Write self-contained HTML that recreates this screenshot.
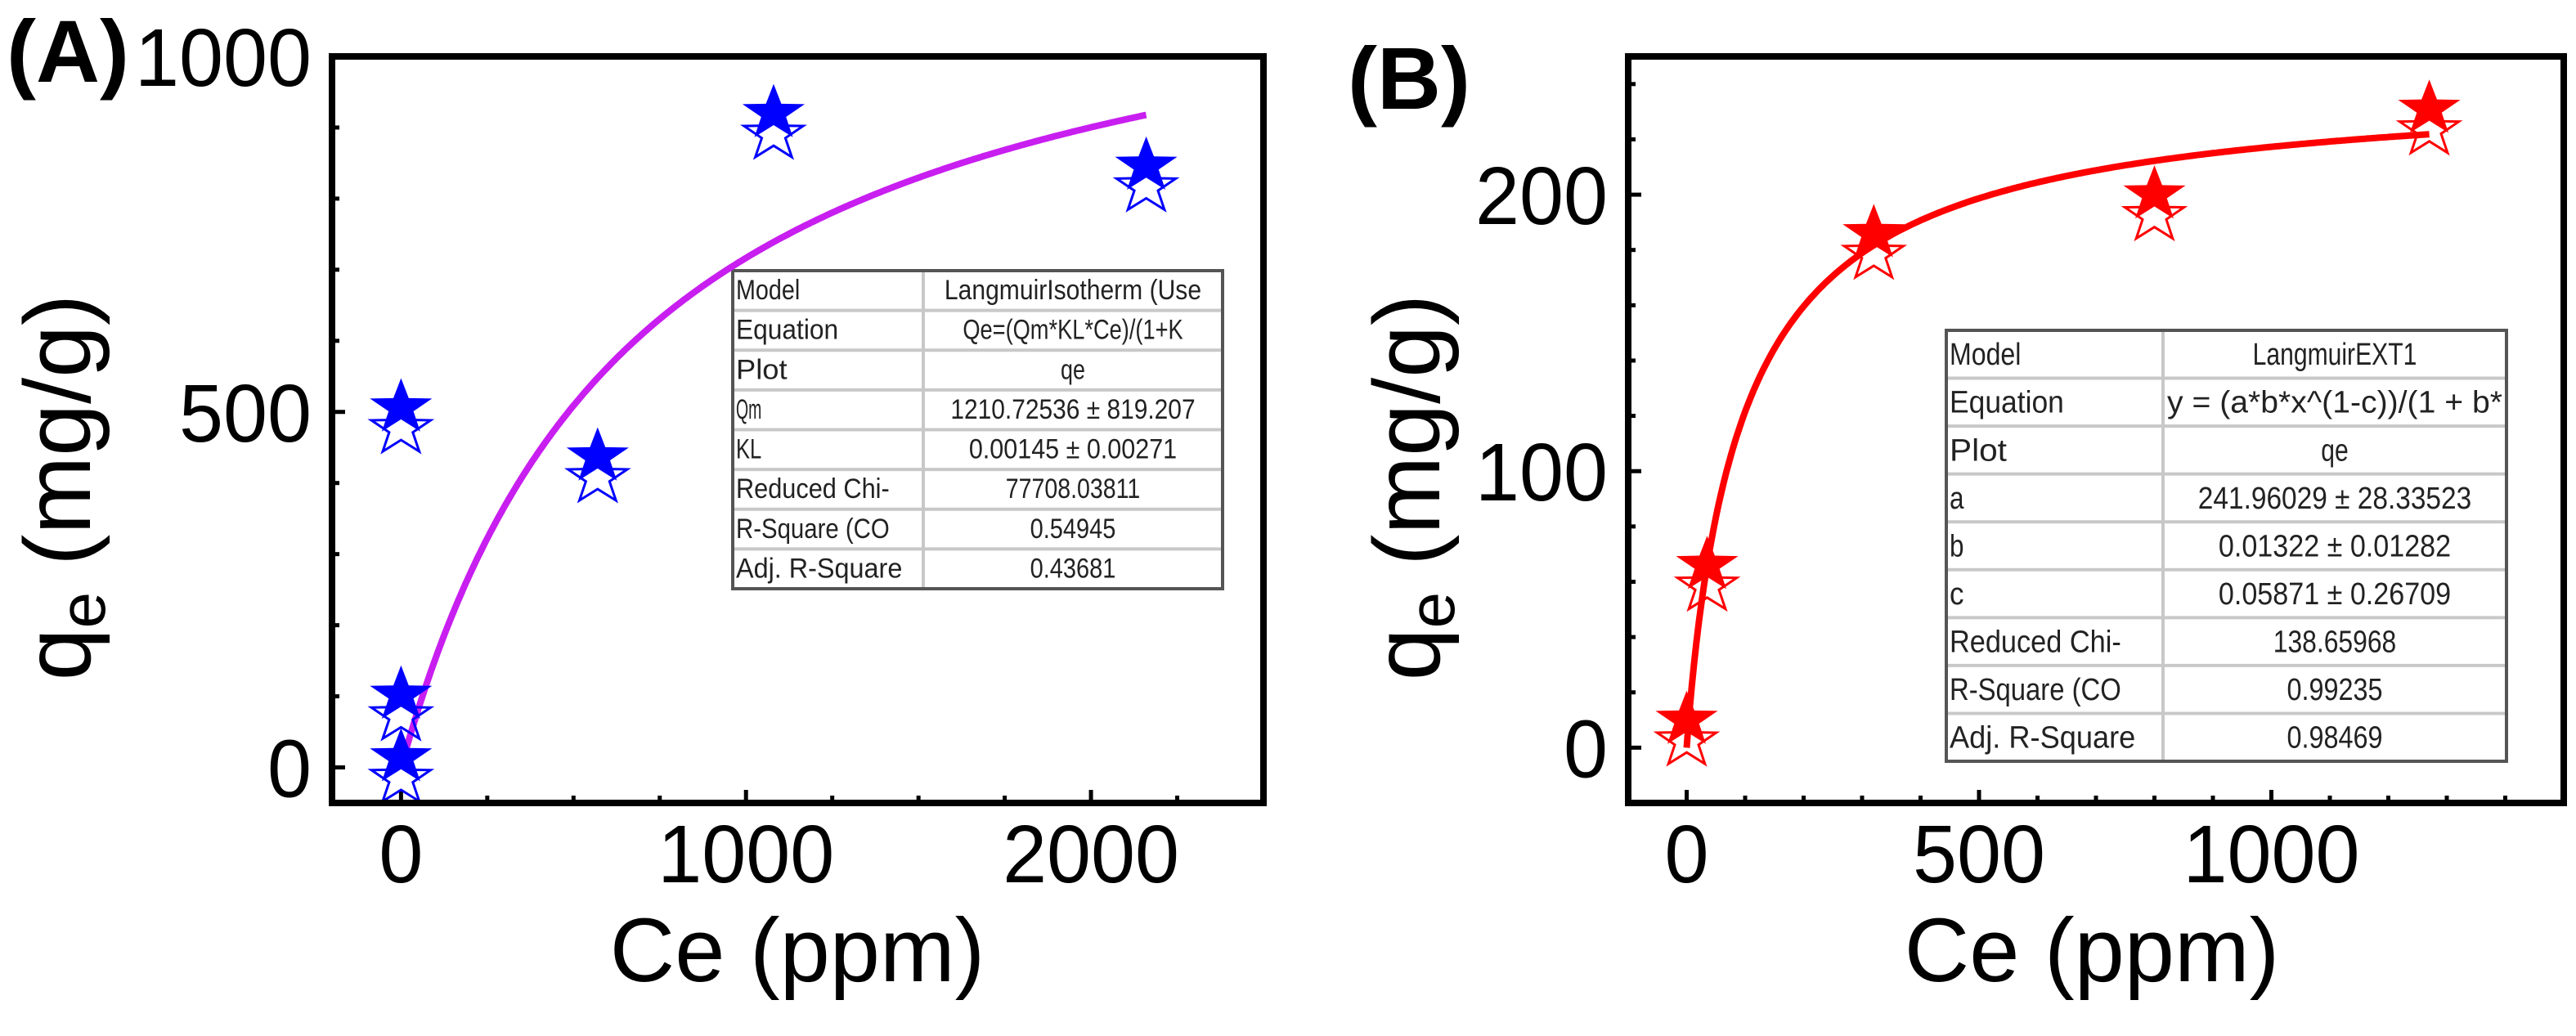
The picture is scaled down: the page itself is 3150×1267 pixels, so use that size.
<!DOCTYPE html>
<html><head><meta charset="utf-8">
<style>
html,body{margin:0;padding:0;background:#fff;}
svg{display:block;font-family:"Liberation Sans",Arial,sans-serif;}
</style></head>
<body>
<svg id="fig" width="3150" height="1267" viewBox="0 0 3150 1267" xmlns="http://www.w3.org/2000/svg">
  <rect x="0" y="0" width="3150" height="1267" fill="#fff"/>
  <g id="panelA"></g>
  <g id="panelB"></g>
</svg>
<script>
// ---------- Panel A data ----------
const aX = [0, 0, 0, 570, 1080, 2160];
const aY = [14, 102, 506, 437, 920, 846];
const aFitQm = 1210.72536;
const aFitKL = 0.00145;
const aXTicks = [0, 1000, 2000];
const aYTicks = [0, 500, 1000];
const aTableLabels = ["Model","Equation","Plot","Qm","KL","Reduced Chi-","R-Square (CO","Adj. R-Square"];
const aTableValues = ["LangmuirIsotherm (Use","Qe=(Qm*KL*Ce)/(1+K","qe","1210.72536 ± 819.207","0.00145 ± 0.00271","77708.03811","0.54945","0.43681"];
// ---------- Panel B data ----------
const bX = [0, 35, 320, 800, 1270];
const bY = [10, 66, 186, 200, 231];
const bFitA = 241.96029;
const bFitB = 0.01322;
const bFitC = 0.05871;
const bXTicks = [0, 500, 1000];
const bYTicks = [0, 100, 200];
const bTableLabels = ["Model","Equation","Plot","a","b","c","Reduced Chi-","R-Square (CO","Adj. R-Square"];
const bTableValues = ["LangmuirEXT1","y = (a*b*x^(1-c))/(1 + b*","qe","241.96029 ± 28.33523","0.01322 ± 0.01282","0.05871 ± 0.26709","138.65968","0.99235","0.98469"];

const NS = "http://www.w3.org/2000/svg";
function mk(parent, tag, attrs, text){
  const e = document.createElementNS(NS, tag);
  for (const k in attrs) e.setAttribute(k, attrs[k]);
  if (text !== undefined) e.textContent = text;
  parent.appendChild(e);
  return e;
}
function starPts(cx, cy, rx, ry){
  const p = [];
  for (let i = 0; i < 10; i++){
    const ang = -Math.PI/2 + i*Math.PI/5;
    const r = i%2===0 ? 1 : 0.4;
    p.push((cx + rx*r*Math.cos(ang)).toFixed(1) + "," + (cy + ry*r*Math.sin(ang)).toFixed(1));
  }
  return p.join(" ");
}

function drawPanel(cfg){
  const g = cfg.g;
  const sx = v => cfg.px0 + (v - cfg.xmin) / (cfg.xmax - cfg.xmin) * (cfg.px1 - cfg.px0);
  const sy = v => cfg.py1 - (v - cfg.ymin) / (cfg.ymax - cfg.ymin) * (cfg.py1 - cfg.py0);

  for (let v = cfg.xMinorStart; v <= cfg.xmax; v += cfg.xMinor){
    const major = cfg.xTicks.indexOf(v) >= 0;
    const t = mk(g, "line", {x1: sx(v), x2: sx(v), y1: cfg.py1, y2: cfg.py1 - (major ? 16 : 9), stroke: "#000", "stroke-width": 5});
    
    
  }
  for (let v = cfg.yMinorStart; v <= cfg.ymax; v += cfg.yMinor){
    const major = cfg.yTicks.indexOf(v) >= 0;
    const t = mk(g, "line", {x1: cfg.px0, x2: cfg.px0 + (major ? 16 : 9), y1: sy(v), y2: sy(v), stroke: "#000", "stroke-width": 5});
    
    
  }
  cfg.xTicks.forEach(v => {
    const s = String(v);
    const t = mk(g, "text", {x: sx(v), y: 1079, "font-size": 100, "text-anchor": "middle", fill: "#000", textLength: 54*s.length, lengthAdjust: "spacingAndGlyphs"}, s);
    
    
  });
  cfg.yTicks.forEach(v => {
    const s = String(v);
    const t = mk(g, "text", {x: cfg.yLabelX, y: sy(v) + 36, "font-size": 100, "text-anchor": "end", fill: "#000", textLength: 54*s.length, lengthAdjust: "spacingAndGlyphs"}, s);
    
    
  });

  const tb = mk(g, "g", {});
  
  
  const n = cfg.tLabels.length;
  const rh = (cfg.ty1 - cfg.ty0) / n;
  mk(tb, "rect", {x: cfg.tx0, y: cfg.ty0, width: cfg.tx1 - cfg.tx0, height: cfg.ty1 - cfg.ty0, fill: "#fff"});
  for (let i = 1; i < n; i++){
    mk(tb, "line", {x1: cfg.tx0, x2: cfg.tx1, y1: cfg.ty0 + i*rh, y2: cfg.ty0 + i*rh, stroke: "#c8c8c8", "stroke-width": 4});
  }
  mk(tb, "line", {x1: cfg.tdiv, x2: cfg.tdiv, y1: cfg.ty0, y2: cfg.ty1, stroke: "#c8c8c8", "stroke-width": 4});
  mk(tb, "rect", {x: cfg.tx0, y: cfg.ty0, width: cfg.tx1 - cfg.tx0, height: cfg.ty1 - cfg.ty0, fill: "none", stroke: "#555", "stroke-width": 4});
  for (let i = 0; i < n; i++){
    const yb = cfg.ty0 + i*rh + rh*0.72;
    const l = mk(tb, "text", {x: cfg.tx0 + 4, y: yb, "font-size": cfg.tFont, fill: "#222", textLength: Math.min(cfg.tLabels[i].length * cfg.tFont*0.46, cfg.tdiv - cfg.tx0 - 8), lengthAdjust: "spacingAndGlyphs"}, cfg.tLabels[i]);
    
    
    const vw = Math.min(cfg.tValues[i].length * cfg.tFont*0.44, cfg.tx1 - cfg.tdiv - 10);
    const vv = mk(tb, "text", {x: (cfg.tdiv + cfg.tx1)/2, y: yb, "font-size": cfg.tFont, fill: "#222", "text-anchor": "middle", textLength: vw, lengthAdjust: "spacingAndGlyphs"}, cfg.tValues[i]);
    
    
  }

  let d = "";
  for (let i = 0; i <= 300; i++){
    const xv = cfg.fitX0 + (cfg.fitX1 - cfg.fitX0) * i / 300;
    const yv = cfg.fit(xv);
    d += (i ? "L" : "M") + sx(xv).toFixed(1) + "," + sy(yv).toFixed(1);
  }
  const c = mk(g, "path", {d: d, fill: "none", stroke: cfg.curveColor, "stroke-width": 8, "stroke-linejoin": "round"});
  
  

  cfg.xs.forEach((xv, i) => {
    const cx = sx(xv), cy = sy(cfg.ys[i]);
    const o = mk(g, "polygon", {points: starPts(cx, cy + 26, 38, 34), fill: "none", stroke: cfg.markerColor, "stroke-width": 3});
    
    
    const s = mk(g, "polygon", {points: starPts(cx, cy, 40, 36), fill: cfg.markerColor});
    
    
  });

  const f = mk(g, "rect", {x: cfg.px0, y: cfg.py0, width: cfg.px1 - cfg.px0, height: cfg.py1 - cfg.py0, fill: "none", stroke: "#000", "stroke-width": 8});
  
  
}

drawPanel({
  g: document.getElementById("panelA"),
  px0: 406, px1: 1545, py0: 69, py1: 982,
  xmin: -200, xmax: 2500, ymin: -50, ymax: 1000,
  xTicks: aXTicks, yTicks: aYTicks, xMinor: 250, xMinorStart: 0, yMinor: 100, yMinorStart: 0,
  yLabelX: 381,
  xs: aX, ys: aY, markerColor: "#0000ff", curveColor: "#c81ef0",
  fit: x => aFitQm * aFitKL * x / (1 + aFitKL * x), fitX0: 0, fitX1: 2160,
  tx0: 896, tx1: 1495, ty0: 331, ty1: 720, tdiv: 1129, tFont: 34,
  tLabels: aTableLabels, tValues: aTableValues
});
drawPanel({
  g: document.getElementById("panelB"),
  px0: 1991, px1: 3135, py0: 69, py1: 982,
  xmin: -100, xmax: 1500, ymin: -20, ymax: 250,
  xTicks: bXTicks, yTicks: bYTicks, xMinor: 100, xMinorStart: 0, yMinor: 20, yMinorStart: 0,
  yLabelX: 1966,
  xs: bX, ys: bY, markerColor: "#ff0000", curveColor: "#ff0000",
  fit: x => { const p = Math.pow(x, 1 - bFitC); return bFitA * bFitB * p / (1 + bFitB * p); }, fitX0: 0, fitX1: 1270,
  tx0: 2380, tx1: 3065, ty0: 404, ty1: 931, tdiv: 2645, tFont: 38,
  tLabels: bTableLabels, tValues: bTableValues
});
</script>
<div style="position:absolute;left:0;top:0;width:3150px;height:1267px;pointer-events:none">
<svg width="3150" height="1267" viewBox="0 0 3150 1267" xmlns="http://www.w3.org/2000/svg" style="font-family:'Liberation Sans',Arial,sans-serif">
  <text x="8" y="100" font-size="108" font-weight="bold">(A)</text>
  <text x="1648" y="133" font-size="108" font-weight="bold">(B)</text>
  <text x="975" y="1200" font-size="110" text-anchor="middle">Ce (ppm)</text>
  <text x="2558" y="1200" font-size="110" text-anchor="middle">Ce (ppm)</text>
  <text transform="translate(110,596) rotate(-90)" font-size="115" text-anchor="middle">q<tspan font-size="80" dy="18">e</tspan><tspan dy="-18"> (mg/g)</tspan></text>
  <text transform="translate(1760,596) rotate(-90)" font-size="115" text-anchor="middle">q<tspan font-size="80" dy="18">e</tspan><tspan dy="-18"> (mg/g)</tspan></text>
</svg>
</div>
</body></html>
